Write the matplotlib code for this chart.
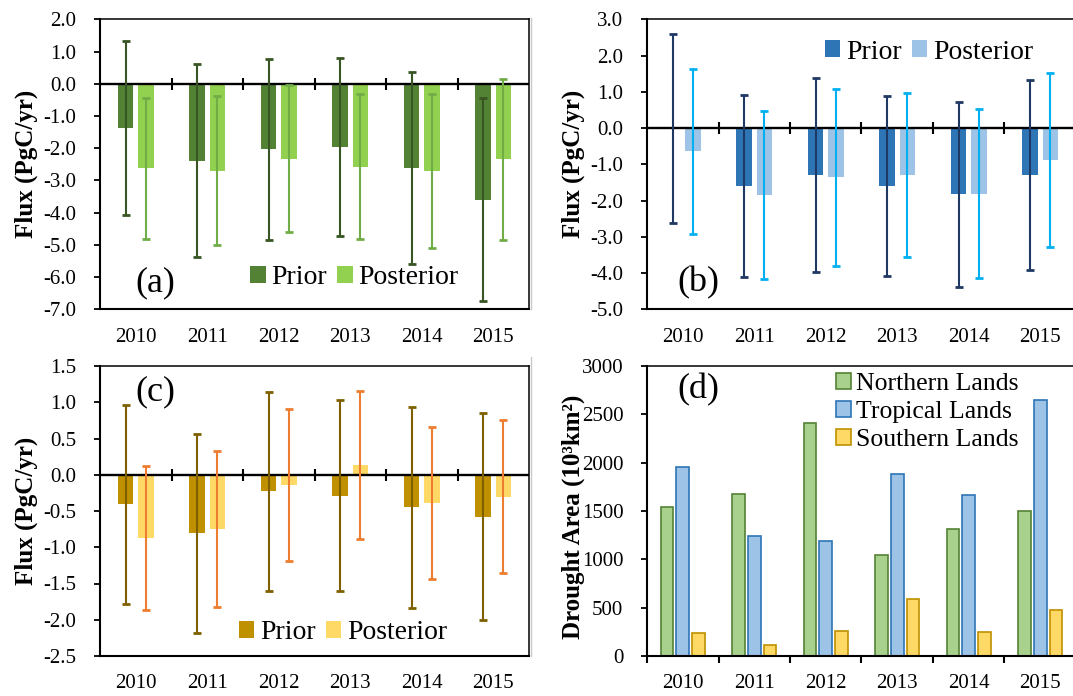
import numpy as np
import matplotlib
matplotlib.use("Agg")
import matplotlib.pyplot as plt
from matplotlib.patches import Patch
from matplotlib.lines import Line2D

plt.rcParams['font.family'] = ['Liberation Serif', 'DejaVu Serif']
plt.rcParams['axes.unicode_minus'] = False
plt.rcParams['mathtext.fontset'] = 'custom'
plt.rcParams['mathtext.rm'] = 'Liberation Serif'
plt.rcParams['mathtext.bf'] = 'Liberation Serif:bold'

# ---------------- data ----------------
years = ['2010', '2011', '2012', '2013', '2014', '2015']

a_prior = [-1.37, -2.39, -2.04, -1.95, -2.62, -3.60]
a_prior_err = [2.70, 3.00, 2.80, 2.76, 2.97, 3.15]
a_post = [-2.63, -2.70, -2.33, -2.57, -2.71, -2.34]
a_post_err = [2.20, 2.32, 2.28, 2.25, 2.40, 2.50]

b_prior = [-0.02, -1.60, -1.30, -1.60, -1.83, -1.29]
b_prior_err = [2.61, 2.50, 2.67, 2.48, 2.56, 2.62]
b_post = [-0.64, -1.85, -1.36, -1.29, -1.81, -0.88]
b_post_err = [2.28, 2.31, 2.44, 2.26, 2.34, 2.41]

c_prior = [-0.41, -0.81, -0.23, -0.29, -0.45, -0.58]
c_prior_err = [1.37, 1.37, 1.37, 1.32, 1.39, 1.43]
c_post = [-0.87, -0.75, -0.14, 0.13, -0.39, -0.30]
c_post_err = [0.99, 1.08, 1.05, 1.02, 1.05, 1.06]

d_north = [1541, 1679, 2414, 1048, 1314, 1503]
d_trop = [1959, 1245, 1190, 1883, 1666, 2645]
d_south = [234, 114, 255, 586, 252, 476]

W, H = 1073, 696
fig = plt.figure(figsize=(W / 100, H / 100), dpi=100)


def px_axes(left, top, width, height):
    return fig.add_axes([left / W, (H - top - height) / H, width / W, height / H])


x = np.arange(len(years))
TICK_FS = 15
LAB_FS = 18


def style_axes(ax, ylim, ystep, fmt, zero_axis=True, xpad=13.5):
    ax.set_xlim(-0.5, len(years) - 0.5)
    ax.set_ylim(*ylim)
    ax.set_yticks(np.arange(ylim[0], ylim[1] + ystep / 2, ystep))
    ax.yaxis.set_major_formatter(matplotlib.ticker.FormatStrFormatter(fmt))
    ax.set_xticks(x)
    ax.set_xticklabels(years)
    ax.tick_params(axis='y', direction='out', length=4, width=1.3, pad=13,
                   labelsize=TICK_FS)
    ax.tick_params(axis='x', which='major', length=0, pad=xpad, labelsize=TICK_FS)
    for s in ['left', 'bottom']:
        ax.spines[s].set_linewidth(1.5)
    for s in ['top', 'right']:
        ax.spines[s].set_linewidth(1.1)
    if zero_axis:
        ax.axhline(0, color='black', lw=1.7, zorder=2.5)
        bnd = np.arange(1, len(years)) - 0.5
        ax.plot(bnd, np.zeros_like(bnd), linestyle='none', marker='|',
                markersize=8, markeredgewidth=1.5, color='black', zorder=2.6)


def flux_panel(ax, prior, prior_err, post, post_err, cols, ylim, ystep,
               label, label_pos, leg_pos, xpad):
    bw = 0.22
    off = 0.143
    ax.bar(x - off, prior, width=bw, color=cols[0], zorder=2)
    ax.bar(x + off, post, width=bw, color=cols[1], zorder=2)
    ax.errorbar(x - off, prior, yerr=prior_err, fmt='none', ecolor=cols[2],
                elinewidth=1.5, capsize=2.6, capthick=2.0, zorder=3)
    ax.errorbar(x + off, post, yerr=post_err, fmt='none', ecolor=cols[3],
                elinewidth=1.5, capsize=2.6, capthick=2.0, zorder=3)
    style_axes(ax, ylim, ystep, '%.1f', xpad=xpad)
    ax.set_ylabel('Flux (PgC/yr)', fontsize=LAB_FS, fontweight='bold')
    ax.yaxis.set_label_coords(-0.1436, 0.5)
    ax.text(label_pos[0], label_pos[1], label, transform=ax.transAxes,
            fontsize=26, ha='center', va='center')
    handles = [Patch(facecolor=cols[0], edgecolor='none', label='Prior'),
               Patch(facecolor=cols[1], edgecolor='none', label='Posterior')]
    ax.legend(handles=handles, loc='center', bbox_to_anchor=leg_pos, ncol=2,
              frameon=False, fontsize=20, handlelength=0.56, handleheight=0.56,
              handletextpad=0.2, columnspacing=0.37, borderpad=0,
              borderaxespad=0)


ax_a = px_axes(100, 19.3, 429, 290)
flux_panel(ax_a, a_prior, a_prior_err, a_post, a_post_err,
           ['#548235', '#92D050', '#375623', '#70AD47'],
           (-7, 2), 1.0, '(a)', (0.128, 0.093), (0.593, 0.11), 13.5)

ax_b = px_axes(647, 19.3, 429, 290)
flux_panel(ax_b, b_prior, b_prior_err, b_post, b_post_err,
           ['#2E75B6', '#9DC3E6', '#1F3864', '#00B0F0'],
           (-5, 3), 1.0, '(b)', (0.119, 0.09), (0.657, 0.887), 13.5)

ax_c = px_axes(100, 366, 429, 290)
flux_panel(ax_c, c_prior, c_prior_err, c_post, c_post_err,
           ['#BF9000', '#FFD966', '#7F6000', '#ED7D31'],
           (-2.5, 1.5), 0.5, '(c)', (0.128, 0.91), (0.566, 0.08), 13)

# ---------------- panel (d) ----------------
ax_d = px_axes(647, 366, 429, 290)
bw = 0.18
d_series = [(d_north, '#A9D18E', '#548235', 'Northern Lands', -0.22),
            (d_trop, '#9DC3E6', '#2E75B6', 'Tropical Lands', 0.0),
            (d_south, '#FFD966', '#BF9000', 'Southern Lands', 0.22)]
handles = []
for vals, fc, ec, lab, off in d_series:
    ax_d.bar(x + off, vals, width=bw, color=fc, edgecolor=ec, linewidth=1.2,
             zorder=2)
    handles.append(Patch(facecolor=fc, edgecolor=ec, linewidth=1.2, label=lab))
style_axes(ax_d, (0, 3000), 500, '%d', zero_axis=False, xpad=13)
ax_d.set_xticks(np.arange(len(years) + 1) - 0.5, minor=True)
ax_d.tick_params(axis='x', which='minor', direction='out', length=5, width=1.5)
ax_d.set_ylabel('Drought Area (10³km²)', fontsize=LAB_FS, fontweight='bold')
ax_d.yaxis.set_label_coords(-0.1436, 0.48)
ax_d.text(0.119, 0.917, '(d)', transform=ax_d.transAxes, fontsize=26,
          ha='center', va='center')
ax_d.legend(handles=handles, loc='center', bbox_to_anchor=(0.653, 0.841),
            frameon=False, fontsize=18.5, handlelength=0.58, handleheight=0.58,
            handletextpad=0.2, labelspacing=0.22, borderpad=0, borderaxespad=0)

# faint border of the right-hand panels
for y0, y1 in [(18, 309), (357, 656)]:
    fig.add_artist(Line2D([531 / W, 531 / W], [(H - y1) / H, (H - y0) / H],
                          color='#C8C8C8', lw=1.0))

fig.savefig('out.png', dpi=100)
